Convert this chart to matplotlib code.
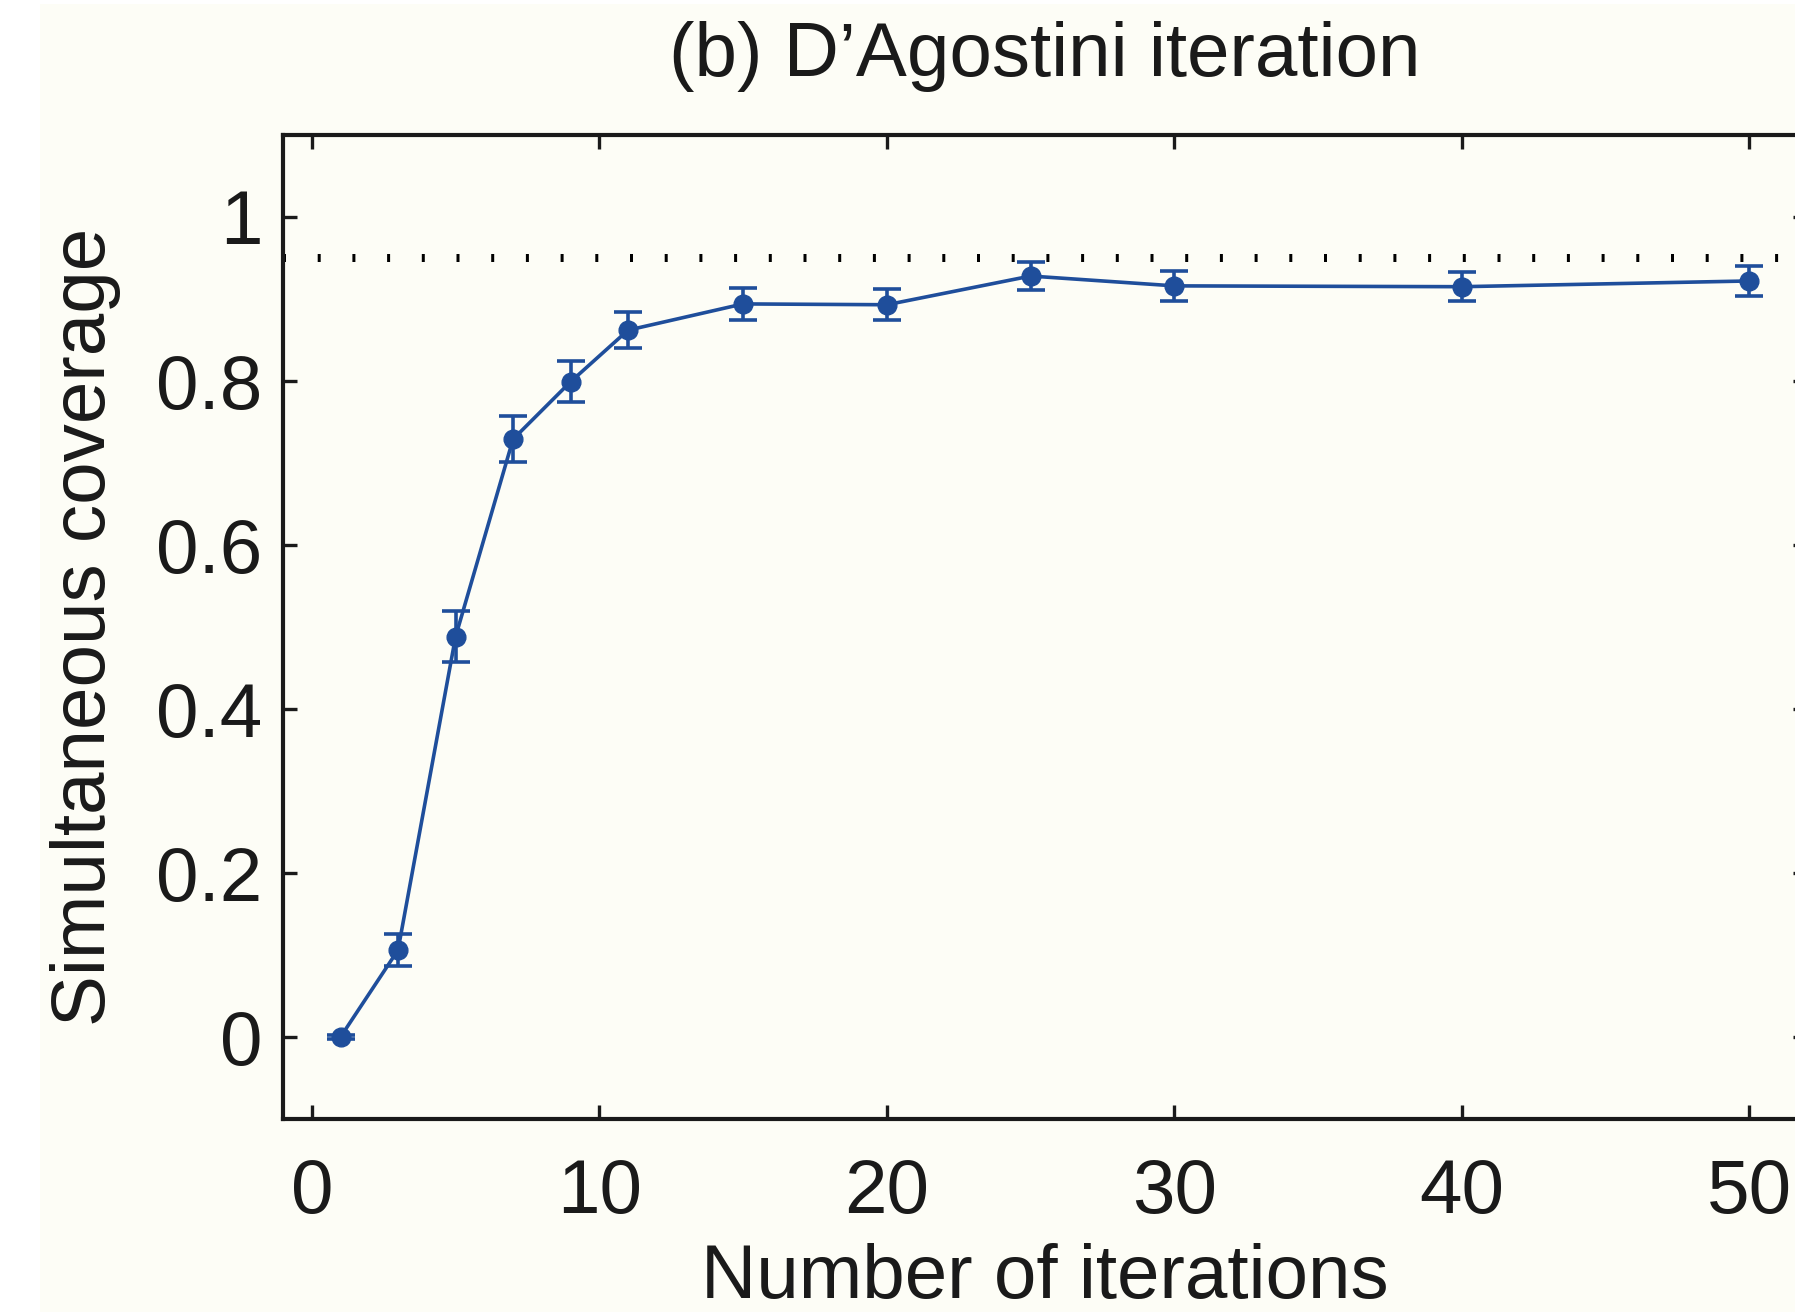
import matplotlib
matplotlib.use("Agg")
import matplotlib.pyplot as plt
from matplotlib.patches import Rectangle

# Coverage vs. number of D'Agostini iterations
iterations = [1, 3, 5, 7, 9, 11, 15, 20, 25, 30, 40, 50]
coverage = [0.000, 0.106, 0.488, 0.729, 0.799, 0.862, 0.894, 0.893, 0.928, 0.916, 0.915, 0.922]
coverage_err = [0.002, 0.020, 0.031, 0.028, 0.025, 0.022, 0.019, 0.019, 0.017, 0.018, 0.018, 0.018]
nominal_level = 0.95

x_ticks = [0, 10, 20, 30, 40, 50]
y_ticks = [0, 0.2, 0.4, 0.6, 0.8, 1.0]
y_ticklabels = ["0", "0.2", "0.4", "0.6", "0.8", "1"]

W, H, DPI = 1795, 1312, 100
plt.rcParams["font.family"] = ["Liberation Sans", "DejaVu Sans"]
FS = 55
BLUE = "#1f4e9b"
CREAM = "#fdfdf6"
INK = "#1a1a1a"

fig = plt.figure(figsize=(W / DPI, H / DPI), dpi=DPI, facecolor="white")
# page background
fig.patches.append(Rectangle((40 / W, 0), 1 - 40 / W, 1 - 4 / H,
                             transform=fig.transFigure, facecolor=CREAM,
                             edgecolor="none", zorder=-10))

ax_left, ax_right = 283 / W, 1807 / W
ax_bottom, ax_top = 1 - 1119 / H, 1 - 135 / H
ax = fig.add_axes([ax_left, ax_bottom, ax_right - ax_left, ax_top - ax_bottom])
ax.set_facecolor(CREAM)

# nominal coverage reference line
lw_dot = 8 * 72 / DPI
ax.axhline(nominal_level, color="black", lw=lw_dot,
           linestyle=(0, (3 / 8, 31.7 / 8)), dash_capstyle="butt", zorder=1)

ax.errorbar(iterations, coverage, yerr=coverage_err, color=BLUE,
            lw=2.6, marker="o", markersize=13.5, capsize=10.4,
            capthick=2.6, elinewidth=2.6, zorder=3)

ax.set_xlim(-1, 52)
ax.set_ylim(-0.1, 1.1)
ax.set_xticks(x_ticks)
ax.set_yticks(y_ticks)
ax.set_yticklabels(y_ticklabels)

for s in ax.spines.values():
    s.set_linewidth(3.0)
    s.set_color(INK)
ax.tick_params(axis="both", direction="in", length=10, width=2.4,
               top=True, right=True, labelsize=FS, colors=INK)
ax.tick_params(axis="x", pad=28)
ax.tick_params(axis="y", pad=15)

ax.set_xlabel("Number of iterations", fontsize=FS, color=INK)
ax.xaxis.set_label_coords(0.5, (1119 - 1243) / 984)
ax.set_ylabel("Simultaneous coverage", fontsize=FS, color=INK)
ax.yaxis.set_label_coords((121 - 283) / 1524, 0.5)
ax.set_title("(b) D\u2019Agostini iteration", fontsize=FS, color=INK,
             y=(1119 - 76) / 984, pad=0)

fig.savefig("out.png", dpi=DPI, facecolor="white")
